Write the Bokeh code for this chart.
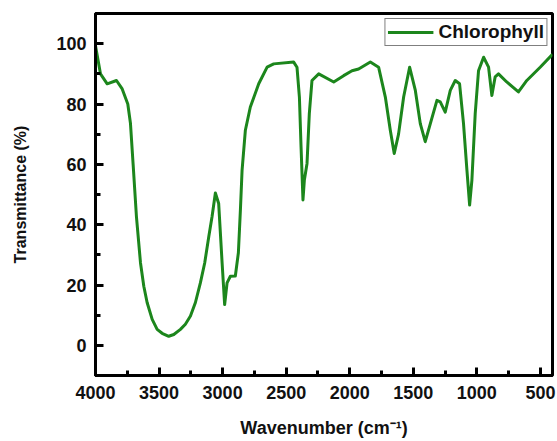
from bokeh.plotting import figure
from bokeh.models import Range1d, SingleIntervalTicker
from bokeh.embed import file_html
from bokeh.resources import INLINE

wavenumber = [4000, 3961, 3908, 3835, 3790, 3746, 3725, 3704, 3678, 3646, 3620, 3594, 3554,
              3515, 3476, 3424, 3384, 3332, 3293, 3253, 3214, 3175, 3141, 3109, 3083, 3057,
              3031, 3004, 2984, 2965, 2939, 2900, 2876, 2860,
              2847, 2821, 2782, 2716, 2650, 2598, 2441, 2415, 2396, 2383, 2368, 2357, 2336,
              2318, 2297, 2244, 2126, 2048, 1982, 1930, 1838, 1773, 1720, 1681, 1650, 1616,
              1576, 1529, 1484, 1445, 1406, 1366, 1314, 1288, 1249, 1209, 1170, 1136, 1105,
              1078, 1057, 1039, 1013, 987, 947, 908, 882, 856, 830, 765, 673, 607, 502, 405]
transmittance = [99.3, 90.0, 86.7, 87.8, 85.0, 80.0, 73.6, 60.0, 42.7, 27.3, 19.6, 14.2, 8.6,
                 5.3, 4.0, 3.0, 3.6, 5.3, 7.0, 9.7, 14.2, 20.7, 27.3, 36.0, 42.7, 50.5,
                 47.0, 27.3, 13.5, 20.7, 22.9, 23.0, 30.7, 45.0,
                 58.0, 71.3, 79.0, 86.7, 92.2, 93.3, 93.9, 92.2, 82.3, 65.8, 48.2, 54.8, 60.3,
                 76.8, 87.8, 90.0, 87.3, 89.4, 91.0, 91.6, 93.9, 92.2, 82.3, 71.3, 63.6, 70.0,
                 82.3, 92.2, 84.5, 73.5, 67.5, 73.5, 81.2, 80.7, 77.3, 84.5, 87.8, 86.7, 73.5,
                 58.0, 46.5, 54.8, 76.8, 91.0, 95.5, 92.2, 82.8, 89.0, 90.0, 87.3, 84.0, 87.8,
                 92.2, 96.5]
series_name = "Chlorophyll"
x_label = "Wavenumber (cm\u207b\u00b9)"
y_label = "Transmittance (%)"

FONT = "Liberation Sans"

p = figure(width=556, height=440, output_backend="svg", toolbar_location=None,
           x_range=Range1d(4000, 405), y_range=Range1d(-10, 110),
           min_border_left=95, min_border_right=4, min_border_top=13, min_border_bottom=65)

p.line(wavenumber, transmittance, line_color="#1c861c", line_width=3,
       line_join="round", legend_label=series_name)

p.xgrid.visible = False
p.ygrid.visible = False
p.outline_line_color = "black"
p.outline_line_width = 3
p.outline_line_alpha = 1
p.background_fill_color = "white"
p.border_fill_color = "white"

p.xaxis.ticker = SingleIntervalTicker(interval=500, num_minor_ticks=2)
p.yaxis.ticker = SingleIntervalTicker(interval=20, num_minor_ticks=2)

for ax in (p.xaxis[0], p.yaxis[0]):
    ax.axis_line_width = 3
    ax.axis_line_color = "black"
    ax.major_tick_in = 8
    ax.major_tick_out = 0
    ax.minor_tick_in = 5
    ax.minor_tick_out = 0
    ax.major_tick_line_width = 3
    ax.minor_tick_line_width = 3
    ax.major_tick_line_color = "black"
    ax.minor_tick_line_color = "black"
    ax.major_label_text_font = FONT
    ax.major_label_text_font_style = "bold"
    ax.major_label_text_font_size = "18px"
    ax.major_label_text_color = "#111111"
    ax.axis_label_text_font = FONT
    ax.axis_label_text_font_style = "bold"
    ax.axis_label_text_color = "#111111"

p.yaxis.axis_label_text_font_size = "16px"
p.xaxis.axis_label_text_font_size = "18px"
p.xaxis.axis_label = x_label
p.yaxis.axis_label = y_label
p.xaxis.major_label_standoff = 10
p.xaxis.axis_label_standoff = 16
p.yaxis.major_label_standoff = 9
p.yaxis.axis_label_standoff = 24

lg = p.legend[0]
lg.location = "top_right"
lg.margin = 5
lg.padding = 2
lg.spacing = 0
lg.border_line_color = "black"
lg.border_line_width = 1
lg.background_fill_alpha = 1
lg.label_text_font = FONT
lg.label_text_font_style = "bold"
lg.label_text_font_size = "19px"
lg.label_text_color = "#111111"
lg.glyph_width = 46
lg.glyph_height = 16
lg.label_standoff = 5
lg.label_height = 16

open("out.html", "w").write(file_html(p, INLINE))
